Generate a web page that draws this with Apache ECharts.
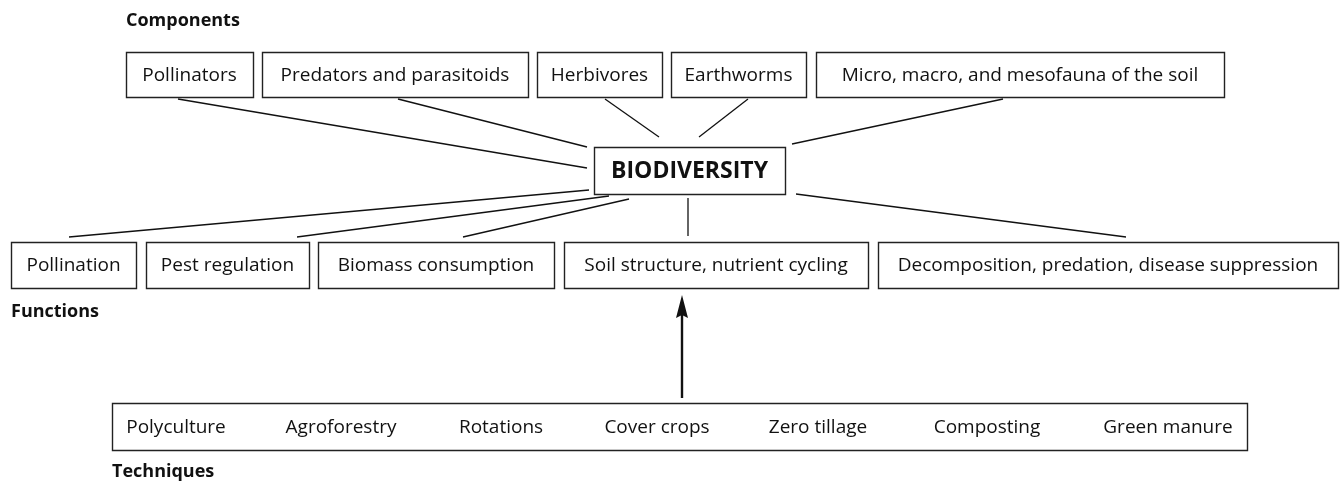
<!DOCTYPE html>
<html><head><meta charset="utf-8">
<script src="https://cdn.jsdelivr.net/npm/echarts@6/dist/echarts.min.js"></script>
<style>html,body{margin:0;padding:0;background:#fff}#c{width:1342px;height:485px}</style>
</head><body><div id="c"></div>
<script>
// ---- content ----
const groupTitles = ['Components', 'Functions', 'Techniques'];
const centerLabel = 'BIODIVERSITY';
const components = ['Pollinators', 'Predators and parasitoids', 'Herbivores', 'Earthworms', 'Micro, macro, and mesofauna of the soil'];
const functions = ['Pollination', 'Pest regulation', 'Biomass consumption', 'Soil structure, nutrient cycling', 'Decomposition, predation, disease suppression'];
const techniques = ['Polyculture', 'Agroforestry', 'Rotations', 'Cover crops', 'Zero tillage', 'Composting', 'Green manure'];

// ---- layout (diagram space, same units as the hidden axes) ----
const compX = [[126, 253], [262, 528], [537, 662], [671, 806], [816, 1224]];
const compY = [52, 97];
const funcX = [[11, 136], [146, 309], [318, 554], [564, 868], [878, 1338]];
const funcY = [242, 288];
const centerBox = [594, 147, 785, 194];
const techBox = [112, 403, 1247, 450];
const techCenters = [176, 341, 501, 657, 818, 987, 1168];
const titlePos = [[126, 21], [11, 312], [112, 472]];
const compLinks = [[178, 99, 587, 168], [398, 99, 587, 147], [605, 99, 659, 137], [748, 99, 699, 137], [1003, 99, 792, 144]];
const funcLinks = [[69, 237, 589, 190], [297, 237, 609, 196], [463, 237, 629, 199], [688, 198, 688, 236], [796, 194, 1126, 237]];
const arrow = [682, 398, 682, 295];

const FONT = '"Open Sans", "Noto Sans", sans-serif';
const INK = '#111';

function boxSeries(labels, xs, ys, fontSize, weight) {
  return {
    type: 'custom', coordinateSystem: 'cartesian2d', clip: false, silent: true,
    data: labels.map((l, i) => [xs[i][0], ys[0], xs[i][1], ys[1]]),
    renderItem: function (params, api) {
      const a = api.coord([api.value(0), api.value(1)]);
      const b = api.coord([api.value(2), api.value(3)]);
      const x = Math.round(a[0]) + 0.5, y = Math.round(a[1]) + 0.5;
      const w = Math.round(b[0] - a[0]), h = Math.round(b[1] - a[1]);
      return { type: 'group', children: [
        { type: 'rect', shape: { x: x, y: y, width: w, height: h }, style: { fill: '#fff', stroke: '#222', lineWidth: 1.4 } },
        { type: 'text', style: { text: labels[params.dataIndex], x: (a[0] + b[0]) / 2, y: (a[1] + b[1]) / 2 + 1, align: 'center', verticalAlign: 'middle', fontSize: fontSize, fontWeight: weight, fontFamily: FONT, fill: INK } }
      ]};
    }
  };
}

function linkSeries(links, width) {
  return {
    type: 'custom', coordinateSystem: 'cartesian2d', clip: false, silent: true,
    data: links,
    renderItem: function (params, api) {
      const p = api.coord([api.value(0), api.value(1)]);
      const q = api.coord([api.value(2), api.value(3)]);
      return { type: 'line', shape: { x1: p[0], y1: p[1], x2: q[0], y2: q[1] }, style: { stroke: INK, lineWidth: width } };
    }
  };
}

const option = {
  animation: false,
  backgroundColor: '#fff',
  grid: { left: 0, right: 0, top: 0, bottom: 0 },
  xAxis: { type: 'value', min: 0, max: 1342, show: false },
  yAxis: { type: 'value', min: 0, max: 485, inverse: true, show: false },
  series: [
    linkSeries(compLinks, 1.3),
    linkSeries(funcLinks, 1.3),
    boxSeries(components, compX, compY, 19, 'normal'),
    boxSeries(functions, funcX, funcY, 19, 'normal'),
    boxSeries([centerLabel], [[centerBox[0], centerBox[2]]], [centerBox[1], centerBox[3]], 23, 'bold'),
    boxSeries([''], [[techBox[0], techBox[2]]], [techBox[1], techBox[3]], 19, 'normal'),
    { // technique labels inside the long box
      type: 'custom', coordinateSystem: 'cartesian2d', clip: false, silent: true,
      data: techniques.map((t, i) => [techCenters[i], (techBox[1] + techBox[3]) / 2]),
      renderItem: function (params, api) {
        const p = api.coord([api.value(0), api.value(1)]);
        return { type: 'text', style: { text: techniques[params.dataIndex], x: p[0], y: p[1] + 1, align: 'center', verticalAlign: 'middle', fontSize: 19, fontFamily: FONT, fill: INK } };
      }
    },
    { // group titles
      type: 'custom', coordinateSystem: 'cartesian2d', clip: false, silent: true,
      data: groupTitles.map((t, i) => titlePos[i]),
      renderItem: function (params, api) {
        const p = api.coord([api.value(0), api.value(1)]);
        return { type: 'text', style: { text: groupTitles[params.dataIndex], x: p[0], y: p[1], align: 'left', verticalAlign: 'middle', fontSize: 18, fontWeight: 'bold', fontFamily: FONT, fill: INK } };
      }
    },
    { // arrow from techniques up to soil functions
      type: 'custom', coordinateSystem: 'cartesian2d', clip: false, silent: true,
      data: [arrow],
      renderItem: function (params, api) {
        const s = api.coord([api.value(0), api.value(1)]);
        const t = api.coord([api.value(2), api.value(3)]);
        return { type: 'group', children: [
          { type: 'line', shape: { x1: s[0], y1: s[1], x2: t[0], y2: t[1] + 18 }, style: { stroke: INK, lineWidth: 2.4 } },
          { type: 'polygon', shape: { points: [[t[0], t[1]], [t[0] - 6, t[1] + 23], [t[0], t[1] + 20], [t[0] + 6, t[1] + 23]] }, style: { fill: INK } }
        ]};
      }
    }
  ]
};
echarts.init(document.getElementById('c'), null, { renderer: 'canvas' }).setOption(option);
</script></body></html>
